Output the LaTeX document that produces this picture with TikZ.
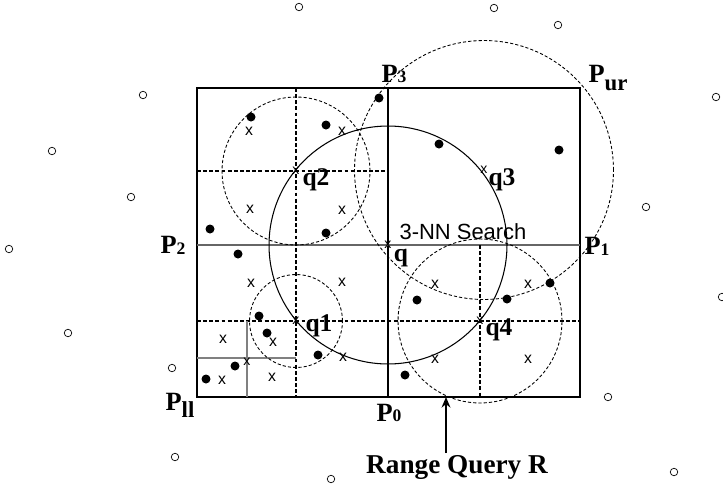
\documentclass[tikz,border=0pt]{standalone}
\usepackage{fontspec}
\setmainfont{Liberation Serif}
\newfontfamily\sansfam{Liberation Sans}
\usetikzlibrary{arrows.meta}
\usetikzlibrary{positioning}

\tikzset{
  dot/.style={circle, fill=black, inner sep=0pt, minimum size=0.18cm},
  emptydot/.style={circle, draw, line width=0.4pt, inner sep=0pt, minimum size=0.15cm},
  xmark/.style={inner sep=0pt, font=\sansfam\fontsize{9}{9}\selectfont},
  qmark/.style={inner sep=0pt, font=\sansfam\fontsize{8}{8}\selectfont},
  qlab/.style={inner sep=0pt, font=\bfseries\fontsize{14.5}{14.5}\selectfont},
  plab/.style={inner sep=0pt, font=\bfseries\fontsize{15}{15}\selectfont},
  partline/.style={line width=1pt, dash pattern=on 2.2pt off 1.3pt},
  rangecirc/.style={line width=0.5pt, dash pattern=on 1.8pt off 1.2pt},
}
\newcommand{\Pnum}[1]{P\raisebox{-0.5pt}{\fontsize{10}{10}\selectfont #1}}
\newcommand{\Ptxt}[1]{P\raisebox{-4pt}{\fontsize{13}{13}\selectfont #1}}

\begin{document}
\begin{tikzpicture}[x=0.02cm, y=-0.02cm, >={Stealth[length=6pt, width=5pt]}]
  \useasboundingbox[fill=white] (0,0) rectangle (723,487);

  % corners and split points
  \coordinate (ll) at (197,397);
  \coordinate (ur) at (580,88);
  \coordinate (p0) at (388,397);
  \coordinate (p1) at (580,245);
  \coordinate (p2) at (197,245);
  \coordinate (p3) at (388,88);

  \coordinate (a1) at (296,88);
  \coordinate (a2) at (296,397);
  \coordinate (b1) at (197,171);
  \coordinate (b2) at (388,171);
  \coordinate (c1) at (197,321);
  \coordinate (c2) at (580,321);
  \coordinate (d1) at (480,245);
  \coordinate (d2) at (480,397);
  \coordinate (e1) at (247,321);
  \coordinate (e2) at (247,397);
  \coordinate (f1) at (197,358);
  \coordinate (f2) at (296,358);

  \draw[line width=1.3pt] (ll) rectangle (ur);
  \draw[line width=0.6pt] (p3) -- (p0);
  \draw[gray!80!black, line width=0.8pt] (p2) -- (p1);

  \draw[partline] (a1) -- (a2);
  \draw[partline] (b1) -- (b2);
  \draw[partline] (c1) -- (c2);
  \draw[partline] (d1) -- (d2);
  \draw[gray, line width=0.6pt] (e1) -- (e2);
  \draw[gray, line width=0.6pt] (f1) -- (f2);

  % query points
  \node[qmark] (q) at (388,245) {x};
  \node[qmark] (q1) at (296,321) {x};
  \node[qmark] (q2) at (296,171) {x};
  \node[qmark] (q3) at (484,170) {x};
  \node[qmark] (q4) at (480,321) {x};
  \node[qmark] (s1) at (247,362) {x};

  \draw[line width=0.6pt] (q) circle[radius=2.38cm];
  \draw[rangecirc] (q1) circle[radius=0.93cm];
  \draw[rangecirc] (q2) circle[radius=1.48cm];
  \draw[rangecirc] (q3) circle[radius=2.59cm];
  \draw[rangecirc] (q4) circle[radius=1.64cm];

  \node[qlab] (ql) at (401,258) {q};
  \node[qlab] (q1l) at (319,326) {q1};
  \node[qlab] (q2l) at (316,180) {q2};
  \node[qlab] (q3l) at (502,180) {q3};
  \node[qlab] (q4l) at (499,330) {q4};

  % data points
  \foreach \px/\py [count=\i] in {251/117, 326/125, 379/98, 210/229, 326/233,
      439/144, 559/150, 238/254, 259/316, 267/333, 318/355, 235/366, 206/379,
      550/283, 417/300, 507/299, 405/375}
    \node[dot] (d\i) at (\px,\py) {};
  \foreach \px/\py [count=\i] in {249/131, 342/131, 250/209, 342/210, 251/283,
      342/282, 223/339, 273/342, 343/357, 222/380, 272/377, 435/284, 528/284,
      435/359, 528/359}
    \node[xmark] (x\i) at (\px,\py) {x};
  \foreach \px/\py [count=\i] in {299/7, 494/8, 558/25, 143/95, 716/97, 52/151,
      131/197, 646/207, 9/249, 722/297, 68/333, 172/368, 608/397, 175/457,
      331/479, 674/472}
    \node[emptydot] (o\i) at (\px,\py) {};

  % labels
  \node[plab] (P0l) at (389,413) {\Pnum{0}};
  \node[plab] (P1l) at (597,246) {\Pnum{1}};
  \node[plab] (P2l) at (173,245) {\Pnum{2}};
  \node[plab] (P3l) at (394,74) {\Pnum{3}};
  \node[plab] (Purl) at (608,78) {\Ptxt{ur}};
  \node[plab] (Plll) at (180,405) {\Ptxt{ll}};

  \node[inner sep=0pt, font=\sansfam\fontsize{12.5}{12.5}\selectfont] (nn) at (463,232) {3-NN Search};
  \node[inner sep=0pt, font=\bfseries\fontsize{15.5}{15.5}\selectfont] (rq) at (457,467) {Range Query R};

  \coordinate (rtail) at (446,453);
  \coordinate (rtip) at (446,397);
  \draw[->, line width=1.1pt] (rtail) -- (rtip);
\end{tikzpicture}
\end{document}
